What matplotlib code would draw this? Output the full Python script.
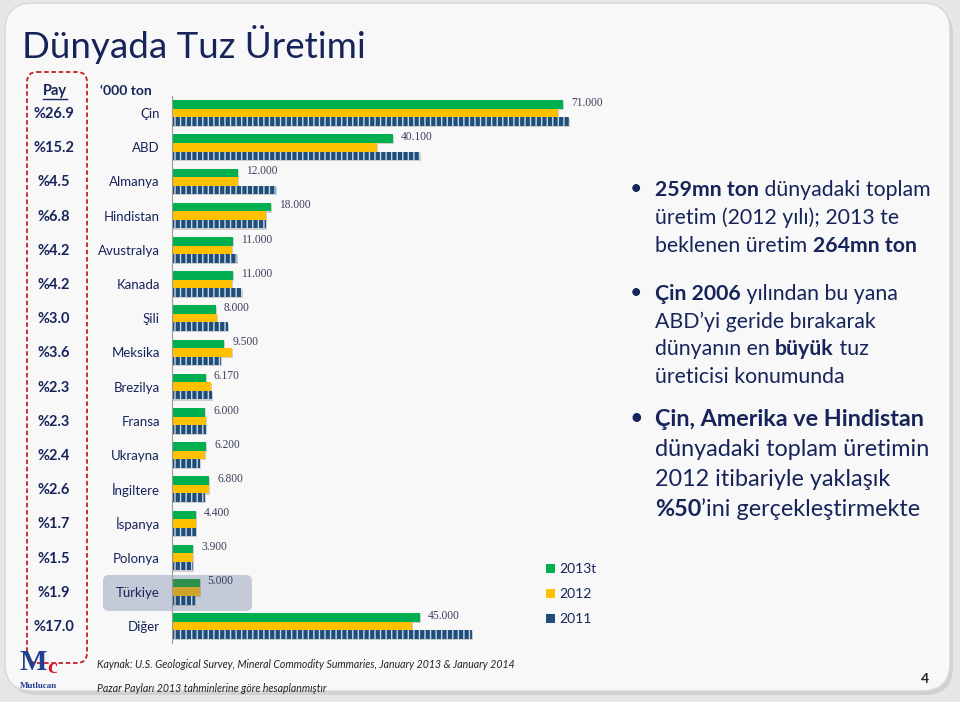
import numpy as np
import matplotlib.pyplot as plt
from matplotlib.patches import FancyBboxPatch, Rectangle

# veriler ('000 ton)
ulkeler = ['Çin', 'ABD', 'Almanya', 'Hindistan', 'Avustralya', 'Kanada', 'Şili', 'Meksika',
           'Brezilya', 'Fransa', 'Ukrayna', 'İngiltere', 'İspanya', 'Polonya', 'Türkiye', 'Diğer']
pay = ['%26.9', '%15.2', '%4.5', '%6.8', '%4.2', '%4.2', '%3.0', '%3.6',
       '%2.3', '%2.3', '%2.4', '%2.6', '%1.7', '%1.5', '%1.9', '%17.0']
uretim_2013 = [71.0, 40.1, 12.0, 18.0, 11.0, 11.0, 8.0, 9.5, 6.17, 6.0, 6.2, 6.8, 4.4, 3.9, 5.0, 45.0]
uretim_2012 = [70.0, 37.2, 12.0, 17.1, 10.9, 10.9, 8.1, 10.9, 7.1, 6.1, 6.0, 6.8, 4.4, 3.9, 5.0, 43.6]
uretim_2011 = [72.0, 45.0, 18.9, 17.1, 11.8, 12.7, 10.2, 8.9, 7.2, 6.1, 5.1, 6.0, 4.4, 3.8, 4.2, 54.4]
seriler = ['2013t', '2012', '2011']

YESIL = '#00b050'
SARI = '#ffc000'
MAVI = '#1f4e79'
LACI = '#16245a'
FONT = ['Lato', 'DejaVu Sans']

plt.rcParams['hatch.color'] = '#c9d6e8'
plt.rcParams['hatch.linewidth'] = 1.0

fig = plt.figure(figsize=(9.6, 7.02), dpi=100)
fig.patch.set_facecolor('#e6e6e6')

# arka plan (piksel koordinatlari)
bg = fig.add_axes([0, 0, 1, 1])
bg.set_xlim(0, 960)
bg.set_ylim(702, 0)
bg.axis('off')

bg.add_patch(FancyBboxPatch((9, 7), 944, 688, boxstyle='round,pad=0,rounding_size=28',
                            fc='#c4c4c4', ec='none', alpha=0.6))
bg.add_patch(FancyBboxPatch((5, 3), 945, 688, boxstyle='round,pad=0,rounding_size=28',
                            fc='#f8f8f8', ec='#d8d8d8', lw=1))

bg.text(22, 45, 'Dünyada Tuz Üretimi', fontsize=26.5, color=LACI, family=FONT, va='center')

# pay kutusu
bg.add_patch(FancyBboxPatch((27, 72), 60, 591, boxstyle='round,pad=0,rounding_size=10',
                            fc='none', ec='#c0202a', lw=1.3, ls=(0, (2.5, 1.5))))
bg.text(55, 91, 'Pay', fontsize=10.5, fontweight='bold', color=LACI, family=FONT,
        ha='center', va='center')
bg.plot([43, 67], [99, 99], color=LACI, lw=1)
bg.text(100, 91, '‘000 ton', fontsize=10, fontweight='bold', color=LACI, family=FONT, va='center')

# Turkiye vurgu kutusu
bg.add_patch(FancyBboxPatch((103, 575), 149, 36, boxstyle='round,pad=0,rounding_size=6',
                            fc='#c5cad8', ec='none'))

# grafik
ax = fig.add_axes([172 / 960, 1 - 643 / 702, 448 / 960, 547 / 702])
ax.patch.set_alpha(0)
y = np.arange(len(ulkeler))
h = 0.25
px_x = 1 / 5.51
px_y = 1 / 34.2

renk_y = [YESIL] * len(ulkeler)
renk_s = [SARI] * len(ulkeler)
renk_y[ulkeler.index('Türkiye')] = '#2e9150'
renk_s[ulkeler.index('Türkiye')] = '#d0a52c'

for deger, off in [(uretim_2013, -h), (uretim_2012, 0), (uretim_2011, h)]:
    ax.barh(y + off + 1.2 * px_y, np.array(deger) + 1.0 * px_x, height=h, left=0,
            color='#3a3a3a', alpha=0.22, lw=0)
ax.barh(y - h, uretim_2013, height=h, color=renk_y, lw=0)
ax.barh(y, uretim_2012, height=h, color=renk_s, lw=0)
ax.barh(y + h, uretim_2011, height=h, color=MAVI, lw=0, hatch='|||')

for i, v in enumerate(uretim_2013):
    ax.text(v + 1.45, i - 0.3, f'{v:.3f}', fontsize=8.3, color='#3c405a',
            family=['Liberation Serif'], va='center')

ax.set_xlim(0, 448 / 5.51)
ax.set_ylim(len(ulkeler) - 0.5, -0.5)
for s in ['top', 'right', 'bottom']:
    ax.spines[s].set_visible(False)
ax.spines['left'].set_color('#9a9a9a')
ax.set_xticks([])
ax.set_yticks([])

# ulke ve pay etiketleri
for i, (u, p) in enumerate(zip(ulkeler, pay)):
    yy = 114 + 34.2 * i
    bg.text(160, yy, u, fontsize=9.5, color=LACI, family=FONT, ha='right', va='center')
    bg.text(54, yy, p, fontsize=10.5, fontweight='bold', color=LACI, family=FONT,
            ha='center', va='center')

# lejant
for k, (ad, renk) in enumerate(zip(seriler, [YESIL, SARI, MAVI])):
    yy = 569 + 25 * k
    bg.add_patch(Rectangle((546, yy - 5), 9, 9, fc=renk, ec='none',
                           hatch='||' if ad == '2011' else None))
    bg.text(559, yy, ad, fontsize=10, color=LACI, family=FONT, va='center')

# sag taraftaki maddeler
renderer = fig.canvas.get_renderer()


def satir(x, yb, parcalar, boyut):
    for metin, kalin in parcalar:
        t = bg.text(x, yb, metin, fontsize=boyut, fontweight='bold' if kalin else 'normal',
                    color=LACI, family=FONT, va='baseline')
        x += t.get_window_extent(renderer).width


maddeler = [
    (189, 28, 15.3, [[('259mn ton', True), (' dünyadaki toplam', False)],
                     [('üretim (2012 yılı); 2013 te', False)],
                     [('beklenen üretim ', False), ('264mn ton', True)]]),
    (293, 27.5, 15.3, [[('Çin 2006', True), (' yılından bu yana', False)],
                       [('ABD’yi geride bırakarak', False)],
                       [('dünyanın en ', False), ('büyük', True), (' tuz', False)],
                       [('üreticisi konumunda', False)]]),
    (418, 30, 16.8, [[('Çin, Amerika ve Hindistan', True)],
                     [('dünyadaki toplam üretimin', False)],
                     [('2012 itibariyle yaklaşık', False)],
                     [('%50', True), ('’ini gerçekleştirmekte', False)]]),
]
for y0, ara, boyut, satirlar in maddeler:
    bg.text(630, y0, '•', fontsize=boyut, color=LACI, family=FONT, va='center')
    for j, parcalar in enumerate(satirlar):
        satir(655, y0 + ara * j + boyut * 0.48, parcalar, boyut)

# kaynak ve sayfa
bg.text(97, 665, 'Kaynak: U.S. Geological Survey, Mineral Commodity Summaries, January 2013 & January 2014',
        fontsize=7.6, style='italic', color='#222222', family=FONT, va='center')
bg.text(97, 688, 'Pazar Payları 2013 tahminlerine göre hesaplanmıştır',
        fontsize=7.6, style='italic', color='#222222', family=FONT, va='center')
bg.text(925, 679, '4', fontsize=10, fontweight='bold', color='#222222', family=FONT,
        ha='center', va='center')

# logo
bg.text(20, 663, 'M', fontsize=21, fontweight='bold', color='#23408e',
        family=['Liberation Serif'], va='center')
bg.text(47, 668, 'c', fontsize=16, fontweight='bold', color='#d0202a',
        family=['Liberation Serif'], va='center')
bg.text(38, 686, 'Mutlucan', fontsize=6.5, fontweight='bold', color='#23408e',
        family=['Liberation Serif'], ha='center', va='center')

fig.savefig('out.png', dpi=100, facecolor=fig.get_facecolor())
